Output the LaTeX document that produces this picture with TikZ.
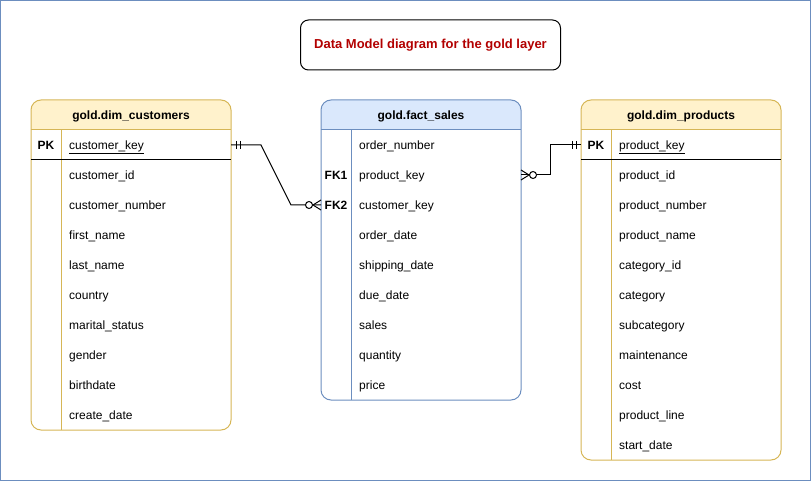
\documentclass[tikz,border=0pt]{standalone}
\usepackage{fontspec}
\setmainfont{Liberation Sans}
\usetikzlibrary{calc}
\definecolor{ylwfill}{HTML}{FFF2CC}
\definecolor{ylwline}{HTML}{D6B656}
\definecolor{blufill}{HTML}{DAE8FC}
\definecolor{bluline}{HTML}{6C8EBF}
\definecolor{titlered}{HTML}{B20000}
\definecolor{ulgray}{HTML}{555555}
\newcommand\ertable[6]{%
  \begin{scope}
    \clip[rounded corners=10pt] (#2,100) rectangle ++(200,{30+30*#3});
    \fill[#4] (#2,100) rectangle ++(200,30);
  \end{scope}
  \node[draw=#5, rounded corners=10pt, line width=1pt, minimum width=200pt,
        minimum height={30pt+30pt*#3}, anchor=north west, inner sep=0pt,
        outer sep=0pt] (#1) at (#2,100) {};
  \draw[#5, line width=1pt] (#2,130) -- ++(200,0);
  \draw[#5, line width=1pt] ({#2+30},130) -- ({#2+30},{130+30*#3});
  \node[hdrtxt] (#1-title) at ({#2+100},115) {#6};
}
\newcommand\keyul[1]{\underline{#1}}
\begin{document}
\begin{tikzpicture}[x=1pt,y=-1pt,
  rowtxt/.style={anchor=west, inner sep=0pt, text height=8.6pt, text depth=0pt,
                 font=\fontsize{12}{14}\selectfont},
  keytxt/.style={anchor=center, inner sep=0pt, text height=8.6pt, text depth=0pt,
                 font=\bfseries\fontsize{12}{14}\selectfont},
  hdrtxt/.style={anchor=center, inner sep=0pt, text height=8.6pt, text depth=0pt,
                 font=\bfseries\fontsize{12}{14}\selectfont},
  conn/.style={line width=1pt, black},
  endmark/.style={line width=1pt, black}
]
\useasboundingbox (0,0) rectangle (811,481);
\draw[bluline, line width=1pt] (0.5,0.5) rectangle (810.5,480.5);

% title
\node[draw=black, line width=1pt, rounded corners=8pt, minimum width=260pt,
      minimum height=50pt, inner sep=0pt, text=titlered,
      font=\bfseries\fontsize{13}{15}\selectfont] (title) at (430.5,45)
      {Data Model diagram for the gold layer};

% tables
\ertable{cust}{31}{10}{ylwfill}{ylwline}{gold.dim\_customers}
\ertable{fact}{321}{9}{blufill}{bluline}{gold.fact\_sales}
\ertable{prod}{581}{11}{ylwfill}{ylwline}{gold.dim\_products}

% customers rows
\node[keytxt] (cpk) at (46,145) {PK};
\node[rowtxt] (ckey) at (69,145) {\keyul{customer\_key}};
\draw[line width=1pt, black] (31,160) -- (231,160);
\foreach \t [count=\i] in {customer\_id, customer\_number, first\_name, last\_name,
  country, marital\_status, gender, birthdate, create\_date}
  \node[rowtxt] (crow\i) at (69,{145+30*\i}) {\t};

% fact rows
\foreach \t [count=\i from 0] in {order\_number, product\_key, customer\_key, order\_date,
  shipping\_date, due\_date, sales, quantity, price}
  \node[rowtxt] (frow\i) at (359,{145+30*\i}) {\t};
\node[keytxt] (fk1) at (336,175) {FK1};
\node[keytxt] (fk2) at (336,205) {FK2};

% products rows
\node[keytxt] (ppk) at (596,145) {PK};
\node[rowtxt] (pkey) at (619,145) {\keyul{product\_key}};
\draw[line width=1pt, black] (581,160) -- (781,160);
\foreach \t [count=\i] in {product\_id, product\_number, product\_name, category\_id,
  category, subcategory, maintenance, cost, product\_line, start\_date}
  \node[rowtxt] (prow\i) at (619,{145+30*\i}) {\t};

% connector customers -> fact
\coordinate (e1) at (cust.east |- ckey);
\coordinate (e2) at (fact.west |- fk2);
\draw[conn] (e1) -- ++(30,0) -- ($(e2)+(-30,0)$) -- (e2);
\draw[endmark] ($(e1)+(5,-4)$) -- ++(0,8);
\draw[endmark] ($(e1)+(9,-4)$) -- ++(0,8);
\draw[endmark] ($(e2)+(0,-5)$) -- ($(e2)+(-8,0)$) -- ($(e2)+(0,5)$);
\draw[endmark, fill=white] ($(e2)+(-12,0)$) circle[radius=3.5pt];

% connector fact -> products
\coordinate (e3) at (fact.east |- frow1);
\coordinate (e4) at (prod.west |- pkey);
\draw[conn] (e3) -- ++(29,0) |- (e4);
\draw[endmark] ($(e3)+(0,-5)$) -- ($(e3)+(8,0)$) -- ($(e3)+(0,5)$);
\draw[endmark, fill=white] ($(e3)+(12,0)$) circle[radius=3.5pt];
\draw[endmark] ($(e4)+(-5,-4)$) -- ++(0,8);
\draw[endmark] ($(e4)+(-9,-4)$) -- ++(0,8);
\end{tikzpicture}
\end{document}
